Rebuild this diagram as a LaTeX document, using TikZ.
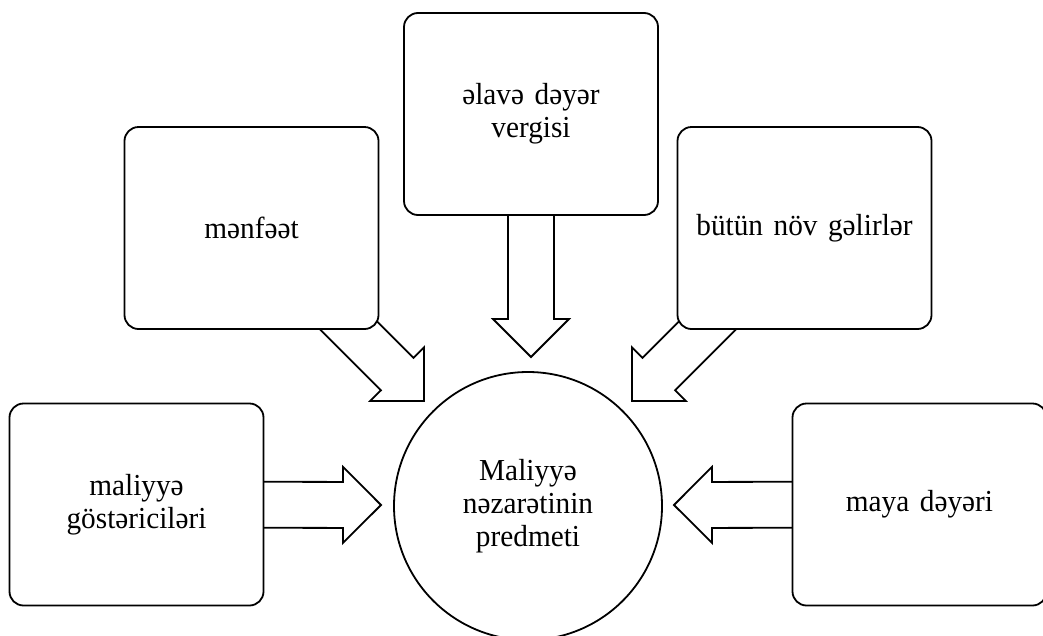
\documentclass[tikz,border=0pt]{standalone}
\usepackage{fontspec}
\setmainfont{Liberation Serif}
\usetikzlibrary{calc,backgrounds}
\newcommand\lblfont{\fontsize{30.5}{33}\selectfont\spaceskip=0.36em\relax}
\tikzset{
  box/.style={draw, line width=1.8pt, rounded corners=14pt, fill=white, inner sep=0pt,
    minimum width=254pt, minimum height=202pt},
  blk/.style={draw, line width=1.8pt, fill=white, line join=miter},
  lbl/.style={font=\lblfont, align=center}
}
\newcommand\blockarrow[2]{%
  \coordinate (ba-h) at ($(#2)!38pt!(#1)$);
  \draw[blk] ($(#1)!23pt!90:(#2)$) -- ($(ba-h)!23pt!90:(#2)$) -- ($(ba-h)!38pt!90:(#2)$)
    -- (#2) -- ($(ba-h)!38pt!-90:(#2)$) -- ($(ba-h)!23pt!-90:(#2)$)
    -- ($(#1)!23pt!-90:(#2)$) -- cycle;
}
\begin{document}
\begin{tikzpicture}[x=1pt,y=-1pt]
\clip (0,0) rectangle (1043,635);
\node[box, lbl] (mf) at (251.5,228) {\scalebox{0.96}[1]{mənfəət}};
\node[box, lbl] (ed) at (531,114) {\scalebox{0.96}[1]{əlavə dəyər}\\\scalebox{0.96}[1]{vergisi}};
\node[box, lbl] (bn) at (804.5,228) {\scalebox{0.96}[1]{bütün növ gəlirlər}};
\node[box, lbl] (mg) at (136.5,504.5) {\scalebox{0.96}[1]{maliyyə}\\\scalebox{0.96}[1]{göstəriciləri}};
\node[box, lbl] (md) at (919.5,504.5) {\scalebox{0.96}[1]{maya dəyəri}};
\node[circle, draw, line width=1.8pt, minimum size=268pt, inner sep=0pt, lbl] (c) at (528,506)
  {\scalebox{0.96}[1]{Maliyyə}\\\scalebox{0.96}[1]{nəzarətinin}\\\scalebox{0.96}[1]{predmeti}};
\coordinate (t1) at (424,401);
\coordinate (t2) at (531,357);
\coordinate (t3) at (632,401);
\coordinate (t4) at (381,505);
\coordinate (t5) at (674,505);
\begin{pgfonlayer}{background}
\blockarrow{mf}{t1}
\blockarrow{ed}{t2}
\blockarrow{bn}{t3}
\blockarrow{mg}{t4}
\blockarrow{md}{t5}
\end{pgfonlayer}
\end{tikzpicture}
\end{document}
